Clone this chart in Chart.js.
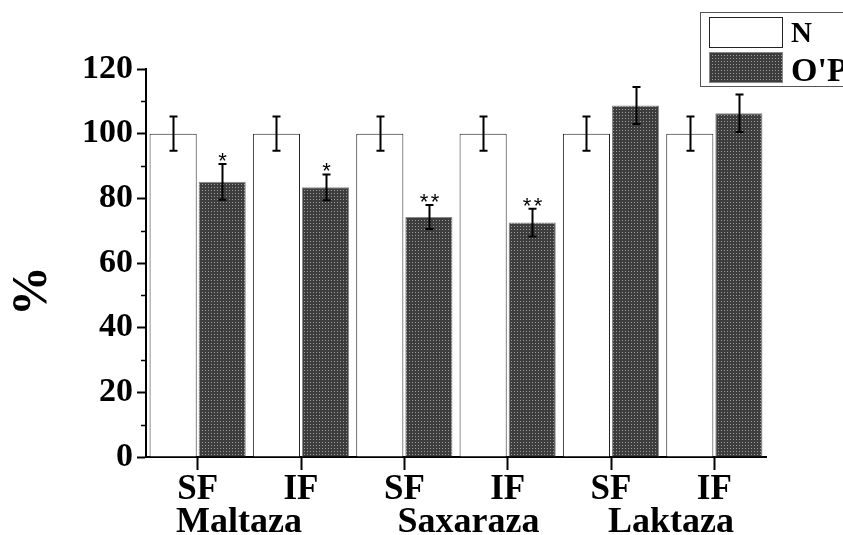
<!DOCTYPE html>
<html>
<head>
<meta charset="utf-8">
<script src="https://cdn.jsdelivr.net/npm/chart.js@4.4.1/dist/chart.umd.min.js"></script>
<style>
    html, body { margin: 0; padding: 0; background: #fff; }
    #wrap { width: 843px; height: 535px; position: relative; }
</style>
</head>
<body>
<div id="wrap"><canvas id="barChart" width="843" height="535"></canvas></div>
<script>
// values
const categories = ['SF', 'IF', 'SF', 'IF', 'SF', 'IF'];
const groupNames = ['Maltaza', 'Saxaraza', 'Laktaza'];
const nValues = [100, 100, 100, 100, 100, 100];
const nErrors = [5.3, 5.3, 5.3, 5.3, 5.3, 5.3];
const opValues = [85.1, 83.4, 74.2, 72.5, 108.7, 106.3];
const opErrors = [5.5, 4.0, 3.7, 4.3, 5.7, 5.8];
const marks = ['*', '*', '**', '**', '', ''];
const yTicks = [0, 20, 40, 60, 80, 100, 120];

// where the group names sit, in category units
const groupPos = [0.4, 2.62, 4.58];

const serif = '"Liberation Serif", "Times New Roman", serif';

function makeDots() {
    const c = document.createElement('canvas');
    c.width = 3; c.height = 3;
    const g = c.getContext('2d');
    g.fillStyle = '#3d3d3d';
    g.fillRect(0, 0, 3, 3);
    g.fillStyle = '#9c9c9c';
    g.fillRect(1, 1, 1, 1);
    return g.createPattern(c, 'repeat');
}

const errorBars = {
    id: 'errorBars',
    afterDatasetsDraw(chart) {
        const ctx = chart.ctx;
        const y = chart.scales.y;
        const errs = [nErrors, opErrors];
        ctx.save();
        ctx.strokeStyle = '#000';
        ctx.lineWidth = 2;
        chart.data.datasets.forEach((ds, di) => {
            chart.getDatasetMeta(di).data.forEach((bar, i) => {
                const top = y.getPixelForValue(ds.data[i] + errs[di][i]);
                const bot = y.getPixelForValue(ds.data[i] - errs[di][i]);
                const x = Math.round(bar.x) + 0.5;
                ctx.beginPath();
                ctx.moveTo(x, top); ctx.lineTo(x, bot);
                ctx.moveTo(x - 4, top); ctx.lineTo(x + 4, top);
                ctx.moveTo(x - 4, bot); ctx.lineTo(x + 4, bot);
                ctx.stroke();
                if (di === 1 && marks[i]) {
                    ctx.fillStyle = '#000';
                    ctx.font = '22px "Liberation Sans", Arial, sans-serif';
                    ctx.textAlign = 'center';
                    ctx.textBaseline = 'alphabetic';
                    const n = marks[i].length;
                    for (let k = 0; k < n; k++) {
                        ctx.fillText('*', x + (k - (n - 1) / 2) * 11, top + 4);
                    }
                }
            });
        });
        ctx.restore();
    }
};

const extras = {
    id: 'extras',
    afterDraw(chart) {
        const ctx = chart.ctx;
        const x = chart.scales.x;
        const y = chart.scales.y;
        ctx.save();
        // minor y ticks
        ctx.strokeStyle = '#000';
        ctx.lineWidth = 1.5;
        for (let v = 10; v < 120; v += 20) {
            const py = Math.round(y.getPixelForValue(v)) + 0.5;
            ctx.beginPath();
            ctx.moveTo(x.left - 5, py); ctx.lineTo(x.left, py);
            ctx.stroke();
        }
        // group names
        ctx.fillStyle = '#000';
        ctx.font = 'bold 36px ' + serif;
        ctx.textAlign = 'center';
        ctx.textBaseline = 'alphabetic';
        const step = x.getPixelForValue(1) - x.getPixelForValue(0);
        groupNames.forEach((name, i) => {
            const px = x.getPixelForValue(0) + groupPos[i] * step;
            ctx.fillText(name, px, 532);
        });
        // y title
        ctx.save();
        ctx.translate(46, 291);
        ctx.rotate(-Math.PI / 2);
        ctx.font = 'bold 50px ' + serif;
        ctx.textAlign = 'center';
        ctx.textBaseline = 'alphabetic';
        ctx.fillText('%', 0, 0);
        ctx.restore();
        // legend
        ctx.strokeStyle = '#555';
        ctx.lineWidth = 1;
        ctx.fillStyle = '#fff';
        ctx.fillRect(700.5, 12.5, 160, 74);
        ctx.strokeRect(700.5, 12.5, 160, 74);
        const ds = chart.data.datasets;
        ctx.fillStyle = ds[0].backgroundColor;
        ctx.fillRect(709.5, 17.5, 73, 30);
        ctx.strokeStyle = '#222';
        ctx.strokeRect(709.5, 17.5, 73, 30);
        ctx.fillStyle = ds[1].backgroundColor;
        ctx.fillRect(709.5, 52.5, 73, 30);
        ctx.strokeStyle = '#888';
        ctx.strokeRect(709.5, 52.5, 73, 30);
        ctx.fillStyle = '#000';
        ctx.textAlign = 'left';
        ctx.font = 'bold 29px ' + serif;
        ctx.fillText(ds[0].label, 791, 42);
        ctx.font = 'bold 34px ' + serif;
        ctx.fillText(ds[1].label, 791, 81);
        ctx.restore();
    }
};

const canvas = document.getElementById('barChart');
const ctx = canvas.getContext('2d');

new Chart(ctx, {
    type: 'bar',
    data: {
        labels: categories,
        datasets: [{
            label: 'N',
            data: nValues,
            backgroundColor: '#ffffff',
            borderColor: '#222',
            borderWidth: 1
        }, {
            label: "O'P",
            data: opValues,
            backgroundColor: makeDots(),
            borderColor: '#888',
            borderWidth: 1
        }]
    },
    options: {
        responsive: false,
        animation: false,
        events: [],
        layout: { padding: { left: 0, right: 77, top: 69, bottom: 0 } },
        categoryPercentage: 0.95,
        barPercentage: 0.96,
        plugins: { legend: { display: false }, tooltip: { enabled: false } },
        scales: {
            x: {
                afterFit(s) { s.height = 78; },
                grid: { display: true, drawOnChartArea: false, offset: false, tickLength: 13, tickWidth: 2, tickColor: '#000' },
                border: { color: '#000', width: 2 },
                ticks: {
                    color: '#000',
                    padding: -1,
                    font: { family: serif, size: 35, weight: 'bold' }
                }
            },
            y: {
                min: 0,
                max: 120,
                afterFit(s) { s.width = 146; },
                afterBuildTicks(s) { s.ticks = yTicks.map(v => ({ value: v })); },
                grid: { drawOnChartArea: false, tickLength: 9, tickWidth: 2, tickColor: '#000' },
                border: { color: '#000', width: 2 },
                ticks: {
                    color: '#000',
                    padding: 4,
                    font: { family: serif, size: 34, weight: 'bold' }
                }
            }
        }
    },
    plugins: [errorBars, extras]
});
</script>
</body>
</html>
